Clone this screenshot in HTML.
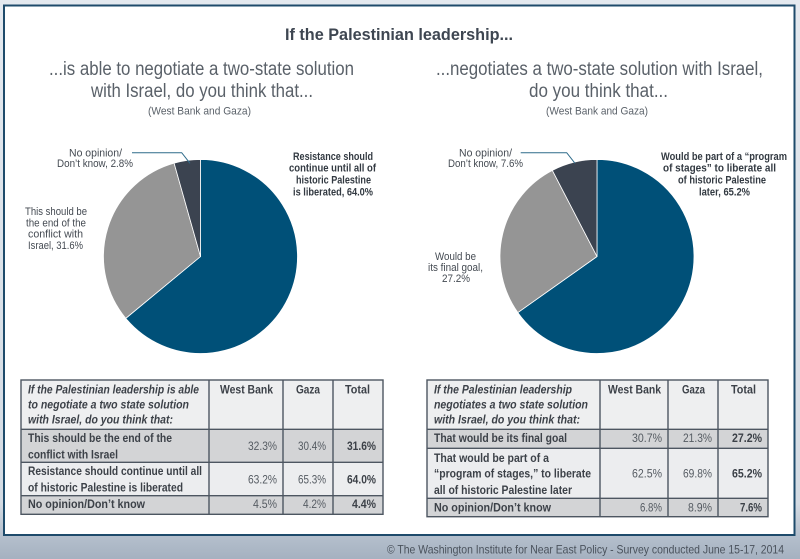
<!DOCTYPE html>
<html><head><meta charset="utf-8"><style>
html,body{margin:0;padding:0;width:800px;height:559px;overflow:hidden;background:linear-gradient(#e4e9ef 0%,#dde3ea 60%,#b9c3cf 90%,#a6b2c1 100%);}
svg{display:block;font-family:"Liberation Sans",sans-serif;}
</style></head><body>
<svg width="800" height="559" viewBox="0 0 800 559" xmlns="http://www.w3.org/2000/svg">
<defs><linearGradient id="bg" x1="0" y1="0" x2="0" y2="1"><stop offset="0" stop-color="#e4e9ef"/><stop offset="0.9" stop-color="#d4dbe3"/><stop offset="0.96" stop-color="#b4bfcc"/><stop offset="1" stop-color="#a5b1c0"/></linearGradient></defs>
<rect x="0" y="0" width="800" height="559" fill="url(#bg)"/>
<rect x="4" y="5.5" width="790.5" height="529.5" fill="#ffffff" stroke="#1e4b6b" stroke-width="2"/>

<!-- Title -->
<text x="285" y="40" font-size="17" font-weight="bold" fill="#3e4651" textLength="228" lengthAdjust="spacingAndGlyphs">If the Palestinian leadership...</text>

<!-- Left subtitle -->
<g fill="#5a6169">
<text x="49" y="75" font-size="19" textLength="305" lengthAdjust="spacingAndGlyphs">...is able to negotiate a two-state solution</text>
<text x="91" y="97" font-size="19" textLength="222" lengthAdjust="spacingAndGlyphs">with Israel, do you think that...</text>
<text x="148" y="114.5" font-size="11" textLength="103" lengthAdjust="spacingAndGlyphs">(West Bank and Gaza)</text>
<!-- Right subtitle -->
<text x="436" y="75" font-size="19" textLength="327" lengthAdjust="spacingAndGlyphs">...negotiates a two-state solution with Israel,</text>
<text x="529" y="97" font-size="19" textLength="139" lengthAdjust="spacingAndGlyphs">do you think that...</text>
<text x="546" y="114.5" font-size="11" textLength="102" lengthAdjust="spacingAndGlyphs">(West Bank and Gaza)</text>
</g>

<!-- Left pie -->
<g stroke="#ffffff" stroke-width="0.8">
<path d="M200.5 256.5 L200.5 159.5 A97 97 0 1 1 125.76 318.33 Z" fill="#005078"/>
<path d="M200.5 256.5 L125.76 318.33 A97 97 0 0 1 174.09 163.17 Z" fill="#959595"/>
<path d="M200.5 256.5 L174.09 163.17 A97 97 0 0 1 200.5 159.5 Z" fill="#3b4350"/>
</g>
<polyline points="132,152.7 181.7,152.7 190,163.3" fill="none" stroke="#2e6b8a" stroke-width="1"/>
<g font-size="11" fill="#444a52">
<text x="69" y="156.5" textLength="53" lengthAdjust="spacingAndGlyphs">No opinion/</text>
<text x="57" y="167" textLength="76" lengthAdjust="spacingAndGlyphs">Don’t know, 2.8%</text>
<text x="25" y="215" textLength="62" lengthAdjust="spacingAndGlyphs">This should be</text>
<text x="26" y="226.3" textLength="60" lengthAdjust="spacingAndGlyphs">the end of the</text>
<text x="28" y="237.5" textLength="55" lengthAdjust="spacingAndGlyphs">conflict with</text>
<text x="28" y="249" textLength="55" lengthAdjust="spacingAndGlyphs">Israel, 31.6%</text>
</g>
<g font-size="11" font-weight="bold" fill="#333a42">
<text x="293" y="160" textLength="80" lengthAdjust="spacingAndGlyphs">Resistance should</text>
<text x="289" y="171.7" textLength="87" lengthAdjust="spacingAndGlyphs">continue until all of</text>
<text x="296" y="183.7" textLength="75" lengthAdjust="spacingAndGlyphs">historic Palestine</text>
<text x="293" y="195.5" textLength="80" lengthAdjust="spacingAndGlyphs">is liberated, 64.0%</text>
</g>

<!-- Right pie -->
<g stroke="#ffffff" stroke-width="0.8">
<path d="M597 256.5 L597 159.5 A97 97 0 1 1 517.84 312.56 Z" fill="#005078"/>
<path d="M597 256.5 L517.84 312.56 A97 97 0 0 1 552.36 170.38 Z" fill="#959595"/>
<path d="M597 256.5 L552.36 170.38 A97 97 0 0 1 597 159.5 Z" fill="#3b4350"/>
</g>
<polyline points="520.7,152.7 566.7,152.7 575,163.3" fill="none" stroke="#2e6b8a" stroke-width="1"/>
<g font-size="11" fill="#444a52">
<text x="459" y="156.5" textLength="53" lengthAdjust="spacingAndGlyphs">No opinion/</text>
<text x="448" y="167" textLength="75" lengthAdjust="spacingAndGlyphs">Don’t know, 7.6%</text>
<text x="435" y="260" textLength="41" lengthAdjust="spacingAndGlyphs">Would be</text>
<text x="428" y="271" textLength="55" lengthAdjust="spacingAndGlyphs">its final goal,</text>
<text x="442" y="282" textLength="28" lengthAdjust="spacingAndGlyphs">27.2%</text>
</g>
<g font-size="11" font-weight="bold" fill="#333a42">
<text x="661" y="160" textLength="126" lengthAdjust="spacingAndGlyphs">Would be part of a “program</text>
<text x="663" y="171.7" textLength="113" lengthAdjust="spacingAndGlyphs">of stages” to liberate all</text>
<text x="678" y="183.7" textLength="88" lengthAdjust="spacingAndGlyphs">of historic Palestine</text>
<text x="699" y="195.5" textLength="51" lengthAdjust="spacingAndGlyphs">later, 65.2%</text>
</g>

<!-- Left table -->
<g>
<rect x="21" y="380" width="362" height="49.3" fill="#eeeff0"/>
<rect x="21" y="429.3" width="362" height="33" fill="#d3d4d6"/>
<rect x="21" y="462.3" width="362" height="33.4" fill="#ecedef"/>
<rect x="21" y="495.7" width="362" height="18.6" fill="#d3d4d6"/>
<g stroke="#4d5661" stroke-width="1.4" fill="none">
<rect x="21" y="380" width="362" height="134.3"/>
<line x1="21" y1="429.3" x2="383" y2="429.3"/>
<line x1="21" y1="462.3" x2="383" y2="462.3"/>
<line x1="21" y1="495.7" x2="383" y2="495.7"/>
<line x1="209" y1="380" x2="209" y2="514.3"/>
<line x1="283" y1="380" x2="283" y2="514.3"/>
<line x1="333" y1="380" x2="333" y2="514.3"/>
</g>
<g font-size="12" font-weight="bold" font-style="italic" fill="#3c4148">
<text x="28" y="393.3" textLength="171" lengthAdjust="spacingAndGlyphs">If the Palestinian leadership is able</text>
<text x="28" y="408.5" textLength="161" lengthAdjust="spacingAndGlyphs">to negotiate a two state solution</text>
<text x="28" y="423.5" textLength="145" lengthAdjust="spacingAndGlyphs">with Israel, do you think that:</text>
</g>
<g font-size="12" font-weight="bold" fill="#3c4148">
<text x="220" y="393.3" textLength="53" lengthAdjust="spacingAndGlyphs">West Bank</text>
<text x="296" y="393.3" textLength="24" lengthAdjust="spacingAndGlyphs">Gaza</text>
<text x="345" y="393.3" textLength="25" lengthAdjust="spacingAndGlyphs">Total</text>
<text x="28" y="441.8" textLength="144" lengthAdjust="spacingAndGlyphs">This should be the end of the</text>
<text x="28" y="458.4" textLength="90" lengthAdjust="spacingAndGlyphs">conflict with Israel</text>
<text x="28" y="475" textLength="174" lengthAdjust="spacingAndGlyphs">Resistance should continue until all</text>
<text x="28" y="491.4" textLength="155" lengthAdjust="spacingAndGlyphs">of historic Palestine is liberated</text>
<text x="28" y="508" textLength="117" lengthAdjust="spacingAndGlyphs">No opinion/Don’t know</text>
<text x="347" y="450" textLength="29" lengthAdjust="spacingAndGlyphs">31.6%</text>
<text x="347" y="483.4" textLength="29" lengthAdjust="spacingAndGlyphs">64.0%</text>
<text x="352" y="508" textLength="24" lengthAdjust="spacingAndGlyphs">4.4%</text>
</g>
<g font-size="12" fill="#555b62">
<text x="248" y="450" textLength="29" lengthAdjust="spacingAndGlyphs">32.3%</text>
<text x="298" y="450" textLength="28" lengthAdjust="spacingAndGlyphs">30.4%</text>
<text x="248" y="483.4" textLength="29" lengthAdjust="spacingAndGlyphs">63.2%</text>
<text x="298" y="483.4" textLength="28" lengthAdjust="spacingAndGlyphs">65.3%</text>
<text x="253" y="508" textLength="24" lengthAdjust="spacingAndGlyphs">4.5%</text>
<text x="303" y="508" textLength="23" lengthAdjust="spacingAndGlyphs">4.2%</text>
</g>
</g>

<!-- Right table -->
<g>
<rect x="427" y="380" width="341" height="49.3" fill="#eeeff0"/>
<rect x="427" y="429.3" width="341" height="19" fill="#d3d4d6"/>
<rect x="427" y="448.3" width="341" height="50" fill="#ecedef"/>
<rect x="427" y="498.3" width="341" height="18.4" fill="#d3d4d6"/>
<g stroke="#4d5661" stroke-width="1.4" fill="none">
<rect x="427" y="380" width="341" height="136.7"/>
<line x1="427" y1="429.3" x2="768" y2="429.3"/>
<line x1="427" y1="448.3" x2="768" y2="448.3"/>
<line x1="427" y1="498.3" x2="768" y2="498.3"/>
<line x1="600" y1="380" x2="600" y2="516.7"/>
<line x1="668" y1="380" x2="668" y2="516.7"/>
<line x1="718" y1="380" x2="718" y2="516.7"/>
</g>
<g font-size="12" font-weight="bold" font-style="italic" fill="#3c4148">
<text x="434" y="393.3" textLength="138" lengthAdjust="spacingAndGlyphs">If the Palestinian leadership</text>
<text x="434" y="408.5" textLength="154" lengthAdjust="spacingAndGlyphs">negotiates a two state solution</text>
<text x="434" y="423.5" textLength="146" lengthAdjust="spacingAndGlyphs">with Israel, do you think that:</text>
</g>
<g font-size="12" font-weight="bold" fill="#3c4148">
<text x="608" y="393.3" textLength="53" lengthAdjust="spacingAndGlyphs">West Bank</text>
<text x="682" y="393.3" textLength="23" lengthAdjust="spacingAndGlyphs">Gaza</text>
<text x="731" y="393.3" textLength="25" lengthAdjust="spacingAndGlyphs">Total</text>
<text x="434" y="441.8" textLength="133" lengthAdjust="spacingAndGlyphs">That would be its final goal</text>
<text x="434" y="461.8" textLength="115" lengthAdjust="spacingAndGlyphs">That would be part of a</text>
<text x="434" y="477.4" textLength="157" lengthAdjust="spacingAndGlyphs">“program of stages,” to liberate</text>
<text x="434" y="494" textLength="138" lengthAdjust="spacingAndGlyphs">all of historic Palestine later</text>
<text x="434" y="511.4" textLength="117" lengthAdjust="spacingAndGlyphs">No opinion/Don’t know</text>
<text x="732" y="441.8" textLength="30" lengthAdjust="spacingAndGlyphs">27.2%</text>
<text x="732" y="477.4" textLength="30" lengthAdjust="spacingAndGlyphs">65.2%</text>
<text x="740" y="511.4" textLength="22" lengthAdjust="spacingAndGlyphs">7.6%</text>
</g>
<g font-size="12" fill="#555b62">
<text x="632" y="441.8" textLength="30" lengthAdjust="spacingAndGlyphs">30.7%</text>
<text x="683" y="441.8" textLength="29" lengthAdjust="spacingAndGlyphs">21.3%</text>
<text x="632" y="477.4" textLength="30" lengthAdjust="spacingAndGlyphs">62.5%</text>
<text x="683" y="477.4" textLength="29" lengthAdjust="spacingAndGlyphs">69.8%</text>
<text x="640" y="511.4" textLength="22" lengthAdjust="spacingAndGlyphs">6.8%</text>
<text x="688" y="511.4" textLength="24" lengthAdjust="spacingAndGlyphs">8.9%</text>
</g>
</g>

<!-- Footer -->
<text x="387" y="553.5" font-size="12" fill="#4a525c" textLength="397" lengthAdjust="spacingAndGlyphs">© The Washington Institute for Near East Policy  -  Survey conducted June 15-17, 2014</text>
</svg>
</body></html>
